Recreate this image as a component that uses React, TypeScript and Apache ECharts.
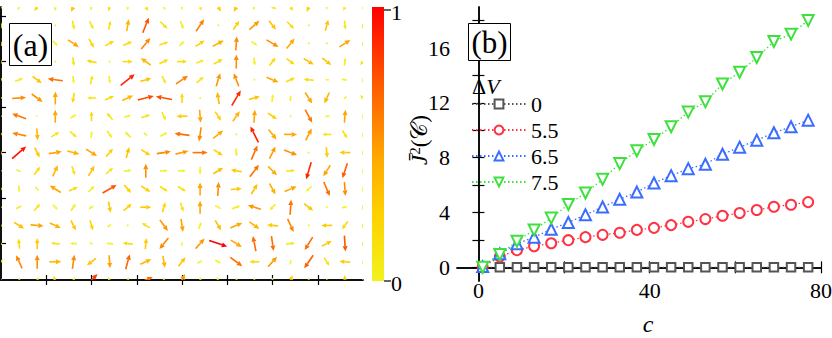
import React, { useEffect, useRef } from 'react';
import * as echarts from 'echarts';

// ---------- panel (b) data ----------
const C_VALUES = [1, 5, 9, 13, 17, 21, 25, 29, 33, 37, 41, 45, 49, 53, 57, 61, 65, 69, 73, 77];
const DV_0 = [0, 0, 0, 0, 0, 0, 0, 0, 0, 0, 0, 0, 0, 0, 0, 0, 0, 0, 0, 0];
const DV_55 = [0, 0.78, 1.25, 1.54, 1.76, 1.98, 2.2, 2.37, 2.52, 2.73, 2.88, 3.08, 3.32, 3.52, 3.76, 3.96, 4.18, 4.42, 4.57, 4.76];
const DV_65 = [0.05, 0.98, 1.71, 2.2, 2.78, 3.27, 3.83, 4.4, 4.96, 5.49, 6.15, 6.69, 7.2, 7.52, 8.25, 8.77, 9.28, 9.82, 10.26, 10.74];
const DV_75 = [0, 0.93, 1.9, 2.73, 3.59, 4.59, 5.42, 6.42, 7.57, 8.5, 9.33, 10.26, 11.33, 12.09, 13.38, 14.24, 15.31, 16.48, 17.02, 18.02];
const SERIES_NAMES = ['0', '5.5', '6.5', '7.5'];
const X_TICKS_B = [0, 20, 40, 60, 80];
const X_LABELS_B = [0, 40, 80];
const Y_TICKS_B = [0, 2, 4, 6, 8, 10, 12, 14, 16, 18];
const Y_LABELS_B = [0, 4, 8, 12, 16];

// ---------- panel (a) data: vector field, rows top -> bottom, 21 columns ----------
const U_ROWS = [
  [0, 2, -6, 0, -5, 2, -3, 0, 5, 3, 0, 3, 6, -5, -3, 8, 5, -4, 0, -3, 0],
  [0, 3, 2, 1, 2, 4, 2, 2, 6, 7, 3, 8, 0.5, 6, 10, 7, 7, 0.5, 3, 1, 1],
  [0, 2, 2, 5, 11, 5, 9, 9, 9, 9, 5, 9, 11, 1, 6, 12, 8, 0.5, 0.3, 11, 0],
  [0, 1, 1, 0.5, 1, -10, 0.5, 10, -10, 9, 10, 8, 9, 0, 1, 6, 8, 10, 9, 1, -6],
  [2, 8, 9, -15, 1, 2, 1, 14, 11, 4, 12, 7, 4, -5, 0.5, 12, 9, -10, -4, 6, 0],
  [3, 14, 11, 0, -2, -9, 9, 11, 16, -16, 0, 0.5, -2, 9, 11, 1, 1, 7, -5, -3, -6],
  [3, -14, 2, 0, 6, 0, -6, 7, 9, 4, -11, 1, 6, 7, 1, 9, 0.5, 7, -5, 1, 0],
  [4, -14, 1, 8, 7, 1, 5, -6, 4, 7, -15, -2, 10, 0.5, -8, 8, 13, 6, -9, 5, 0],
  [0, 14, 5, 13, 12, 11, 7, 3, 9, 14, 13, 15, 9, 1, 6, 6, 13, 0.5, 1, -11, 0],
  [2, 5, 6, 5, 3, 6, 7, 8, 0, 8, 8, 0, 10, -11, 9, 9, 9, -5, -7, -5, 0],
  [2, 1, 4, -11, 9, 6, 14, 7, 9, 8, 8, 0, 1, 11, 6, 6, 12, -6, 6, 1, 0],
  [3, 6, 6, 5, 5, 5, 2, 8, 11, 3, 3, 0, 6, 8, -13, -6, 1, 9, 0.5, 6, 0],
  [3, 10, 13, 11, 5, 3, 4, 0.5, -8, 8, 2, 3, 6, 12, 10, -11, 6, 0.5, -11, -6, 0],
  [4, -1, 0, -9, -7, 3, -7, -10, 1, -9, 1, 9, 18, 11, -3, 2, 9, -8, 10, 1, 0],
  [4, -6, 0, 12, 2, -9, 1, 4, 11, 2, 7, 5, 6, 12, -10, 9, 1, -9, 5, -11, 0],
  [0, 2, 3, -4, 3, 12, -3, 2, 14, 0, 6, 2, -3, 2, 0, 0, 4, 0, 0, 0, 0],
];
const V_ROWS = [
  [3, 5, -8, -8, -10, 6, -9, -7, -8, -6, 5, -8, -9, -10, -6, -4, -8, -10, -6, -8, 4],
  [6, 5, 4, 1, -9, -8, 9, 12, 15, -7, -8, 12, 0.5, 9, 9, -9, -7, 0.5, 11, -9, 6],
  [5, 3, 3, -5, -7, -9, 5, 4, 11, 3, 5, 6, 6, 14, -4, -7, 10, 0.5, 0.3, 7, 5],
  [4, 2, 2, 0.5, -9, 2, 0.3, 0, 7, 4, 0, 3, 5, 14, -8, 8, -6, -6, -7, 8, -7],
  [4, 3, -7, 2, -8, 9, -8, 11, 3, -8, 8, 6, 13, 13, 0.5, -5, 4, 1, 0, -1, 5],
  [2, 1, -8, 13, -10, 0, 4, 5, 4, 3, 10, 0.5, 12, 15, 3, 8, 6, -11, -11, -3, 6],
  [0, 5, 0, 13, 4, 10, 7, 2, 3, -8, 0, -13, -9, 10, 13, -6, 0.3, -13, 0, 13, 5],
  [3, 3, -12, 5, -6, 7, -7, 6, -3, 4, 2, -14, 8, 0.5, 16, -10, 0, 12, 0, -8, 5],
  [4, 12, -10, 2, -3, -7, 8, 11, -6, 2, 3, 0, -6, -8, 14, 12, -5, 0.5, -11, 0, 5],
  [1, -2, 8, 11, -9, 10, 6, 1, 14, 0, 0, -8, 6, 2, 12, -9, 1, -17, -11, -15, 5],
  [3, -7, -4, 7, 4, 6, 8, -8, -6, -5, -5, 13, 14, 1, 10, -11, 5, -5, -14, -14, 5],
  [0, 3, 7, -5, 7, 3, -11, 7, 0, 10, -9, 13, -3, 3, 4, -6, 15, -7, 0.5, 1, 5],
  [-2, -6, -1, -5, -10, -10, 3, 0.5, 5, -11, -13, 7, -10, 5, -7, 1, -13, 0.5, 0, -8, 5],
  [-3, 10, 11, 1, 0, -3, 1, 1, 11, -11, 4, 10, -6, -7, 15, -15, 1, -13, 5, -16, 5],
  [5, 13, 14, 0, 14, -7, -13, 15, 5, -12, 9, 3, -3, -9, 0, 10, 5, -13, -8, 1, 4],
  [4, 5, 6, 8, 6, 12, 6, 6, 6, 6, 12, 6, 6, 5, 5, 5, 10, 5, 4, 10, 4],
];
const X_TICKS_A = [2.5, 5, 7.5, 10, 12.5, 15, 17.5];
const Y_TICKS_A = [2, 4.5, 7, 9.5, 12, 14.5];
const COLORBAR_LABELS = ['1', '0'];

const SERIF = 'Liberation Serif';

const STOPS: [number, number[]][] = [
  [0, [242, 242, 30]],
  [0.25, [255, 208, 0]],
  [0.45, [255, 168, 0]],
  [0.7, [255, 96, 0]],
  [1, [255, 0, 0]],
];
function rampColor(t: number) {
  t = Math.max(0, Math.min(1, t));
  for (let k = 1; k < STOPS.length; k++) {
    if (t <= STOPS[k][0]) {
      const [t0, c0] = STOPS[k - 1];
      const [t1, c1] = STOPS[k];
      const f = (t - t0) / (t1 - t0);
      const c = c0.map((v, idx) => Math.round(v + (c1[idx] - v) * f));
      return `rgb(${c[0]},${c[1]},${c[2]})`;
    }
  }
  return 'rgb(255,0,0)';
}

export default function App() {
  const ref = useRef<HTMLDivElement>(null);
  useEffect(() => {
    if (!ref.current) return;
    const chart = echarts.init(ref.current, undefined, { renderer: 'svg' });

    const nRows = U_ROWS.length;
    const fieldData: number[][] = [];
    for (let r = 0; r < nRows; r++) {
      for (let i = 0; i < U_ROWS[r].length; i++) {
        fieldData.push([i, nRows - 1 - r, U_ROWS[r][i], V_ROWS[r][i]]);
      }
    }

    const renderArrow = (params: any, api: any) => {
      const i = api.value(0), j = api.value(1), u = api.value(2), v = api.value(3);
      const c = api.coord([i, j]);
      const s = api.size([1, 1]);
      const sx = s[0] / 18.1, sy = s[1] / 18.18;
      const dx = u * sx, dy = -v * sy;
      const L = Math.hypot(dx, dy);
      const color = rampColor((Math.hypot(u, v) - 8) / 11);
      if (L < 2) {
        return { type: 'circle', shape: { cx: c[0], cy: c[1], r: 0.9 }, style: { fill: color } };
      }
      const ux = dx / L, uy = dy / L;
      const x0 = c[0] - dx / 2, y0 = c[1] - dy / 2;
      const x1 = c[0] + dx / 2, y1 = c[1] + dy / 2;
      const hl = Math.min(5.5, L * 0.45), hw = hl * 0.45;
      const bx = x1 - ux * hl, by = y1 - uy * hl;
      const px = -uy, py = ux;
      return {
        type: 'group',
        children: [
          { type: 'line', shape: { x1: x0, y1: y0, x2: bx, y2: by }, style: { stroke: color, lineWidth: 1.6 } },
          {
            type: 'polygon',
            shape: { points: [[x1, y1], [bx + px * hw, by + py * hw], [bx - px * hw, by - py * hw]] },
            style: { fill: color },
          },
        ],
      };
    };

    const axisLineStyle = { lineStyle: { color: '#000', width: 1.5 } };
    const hiddenLabel = { show: false };

    const colorbarGradient = new echarts.graphic.LinearGradient(0, 1, 0, 0,
      STOPS.map(([t, c]) => ({ offset: t, color: `rgb(${c[0]},${c[1]},${c[2]})` })));

    const lineColors = ['#555555', '#ff3344', '#3a6dff', '#3ee03e'];
    const lineData = [DV_0, DV_55, DV_65, DV_75];
    const symbols = ['emptyRect', 'emptyCircle', 'emptyTriangle', 'emptyTriangle'];
    const symbolSizes = [8.5, 10, 11, 11];
    const symbolRotates = [0, 0, 0, 180];

    const lineSeries = lineData.map((arr, k) => ({
      type: 'line',
      name: SERIES_NAMES[k],
      xAxisIndex: 2,
      yAxisIndex: 2,
      data: C_VALUES.map((x, n) => [x, arr[n]]),
      symbol: symbols[k],
      symbolSize: symbolSizes[k],
      symbolRotate: symbolRotates[k],
      showAllSymbol: true,
      lineStyle: { color: lineColors[k], width: 1.3, type: [1.5, 2.5] },
      itemStyle: { color: lineColors[k], borderWidth: 1.2 },
      z: 3 + k,
    }));

    const tickStyle = { color: '#000', width: 1.2 };

    const option: any = {
      animation: false,
      backgroundColor: '#fff',
      textStyle: { fontFamily: SERIF },
      grid: [
        { left: 1, top: 7, width: 362, height: 273, outerBoundsMode: 'none', containLabel: false },
        { left: 457, top: 7, width: 364, height: 274, outerBoundsMode: 'none', containLabel: false },
      ],
      xAxis: [
        {
          gridIndex: 0, type: 'value', min: 0, max: 20, position: 'bottom',
          axisLine: axisLineStyle, splitLine: { show: false }, axisLabel: hiddenLabel,
          axisTick: { inside: true, length: 5, customValues: X_TICKS_A, lineStyle: tickStyle },
        },
        {
          gridIndex: 0, type: 'value', min: 0, max: 20, position: 'top',
          axisLine: axisLineStyle, splitLine: { show: false }, axisLabel: hiddenLabel,
          axisTick: { inside: true, length: 5, customValues: X_TICKS_A, lineStyle: tickStyle },
        },
        {
          gridIndex: 1, type: 'value', min: -5, max: 80, position: 'bottom',
          axisLine: axisLineStyle, splitLine: { show: false },
          axisTick: { inside: true, length: 6, customValues: X_TICKS_B, lineStyle: tickStyle },
          axisLabel: {
            customValues: X_LABELS_B, fontSize: 22, color: '#000', fontFamily: SERIF,
            margin: 9, verticalAlign: 'middle', lineHeight: 22,
          },
        },
        {
          gridIndex: 1, type: 'value', min: -5, max: 80, position: 'top',
          axisLine: axisLineStyle, splitLine: { show: false }, axisLabel: hiddenLabel,
          axisTick: { inside: true, length: 6, customValues: X_TICKS_B, lineStyle: tickStyle },
        },
      ],
      yAxis: [
        {
          gridIndex: 0, type: 'value', min: 0, max: 15, position: 'left',
          axisLine: axisLineStyle, splitLine: { show: false }, axisLabel: hiddenLabel,
          axisTick: { inside: true, length: 5, customValues: Y_TICKS_A, lineStyle: tickStyle },
        },
        {
          gridIndex: 0, type: 'value', min: 0, max: 15, position: 'right',
          axisLine: axisLineStyle, splitLine: { show: false }, axisLabel: hiddenLabel,
          axisTick: { inside: true, length: 5, customValues: Y_TICKS_A, lineStyle: tickStyle },
        },
        {
          gridIndex: 1, type: 'value', min: -1, max: 19, position: 'left',
          axisLine: axisLineStyle, splitLine: { show: false },
          axisTick: { inside: true, length: 6, customValues: Y_TICKS_B, lineStyle: tickStyle },
          axisLabel: { customValues: Y_LABELS_B, fontSize: 22, color: '#000', fontFamily: SERIF, margin: 7 },
        },
        {
          gridIndex: 1, type: 'value', min: -1, max: 19, position: 'right',
          axisLine: axisLineStyle, splitLine: { show: false }, axisLabel: hiddenLabel,
          axisTick: { inside: true, length: 6, customValues: Y_TICKS_B, lineStyle: tickStyle },
        },
      ],
      legend: {
        data: SERIES_NAMES,
        orient: 'vertical',
        left: 471,
        top: 93,
        itemWidth: 54,
        itemHeight: 11,
        itemGap: 4,
        padding: 0,
        textStyle: { fontSize: 22, color: '#000', fontFamily: SERIF },
        selectedMode: false,
      },
      series: [
        {
          type: 'custom',
          xAxisIndex: 0,
          yAxisIndex: 0,
          data: fieldData,
          renderItem: renderArrow,
          clip: true,
          silent: true,
          z: 2,
        },
        ...lineSeries,
      ],
      graphic: [
        // (a) label box
        { type: 'rect', z: 100, shape: { x: 9.5, y: 23.5, width: 42, height: 42 }, style: { fill: '#fff', stroke: '#000', lineWidth: 1 } },
        { type: 'text', z: 101, x: 30.5, y: 44.5, style: { text: '(a)', fontSize: 32, fontFamily: SERIF, fill: '#000', align: 'center', verticalAlign: 'middle' } },
        // (b) label box
        { type: 'rect', z: 100, shape: { x: 468.5, y: 23.5, width: 42, height: 37 }, style: { fill: '#fff', stroke: '#000', lineWidth: 1 } },
        { type: 'text', z: 101, x: 489.5, y: 42, style: { text: '(b)', fontSize: 31, fontFamily: SERIF, fill: '#000', align: 'center', verticalAlign: 'middle' } },
        // Delta V legend title
        {
          type: 'text', z: 101, x: 472, y: 86,
          style: {
            text: '{a|Δ}{b|V}',
            verticalAlign: 'middle',
            rich: {
              a: { fontSize: 22, fontFamily: SERIF, fill: '#000' },
              b: { fontSize: 22, fontFamily: SERIF, fontStyle: 'italic', fill: '#000' },
            },
          },
        },
        // colorbar
        { type: 'rect', z: 10, shape: { x: 372, y: 7, width: 12, height: 274 }, style: { fill: colorbarGradient } },
        { type: 'line', z: 10, shape: { x1: 384, y1: 10, x2: 391, y2: 10 }, style: { stroke: '#000', lineWidth: 1.2 } },
        { type: 'line', z: 10, shape: { x1: 384, y1: 281, x2: 391, y2: 281 }, style: { stroke: '#000', lineWidth: 1.2 } },
        { type: 'text', z: 10, x: 391, y: 12, style: { text: COLORBAR_LABELS[0], fontSize: 22, fontFamily: SERIF, fill: '#000', verticalAlign: 'middle' } },
        { type: 'text', z: 10, x: 391, y: 283, style: { text: COLORBAR_LABELS[1], fontSize: 22, fontFamily: SERIF, fill: '#000', verticalAlign: 'middle' } },
        // y-axis name of panel (b)
        {
          type: 'text', z: 10, x: 419, y: 140, rotation: Math.PI / 2,
          style: {
            text: '{j|J\u0304}{s|2}{p|(}{c|\uD835\uDC9E}{p|)}',
            align: 'center',
            verticalAlign: 'middle',
            rich: {
              j: { fontSize: 23, fontFamily: SERIF, fontStyle: 'italic', fill: '#000' },
              s: { fontSize: 15, fontFamily: SERIF, fill: '#000', padding: [0, 0, 9, 0] },
              p: { fontSize: 23, fontFamily: SERIF, fill: '#000' },
              c: { fontSize: 23, fontFamily: 'DejaVu Serif', fill: '#000' },
            },
          },
        },
        // x-axis name of panel (b)
        { type: 'text', z: 10, x: 648, y: 324, style: { text: 'c', fontSize: 24, fontStyle: 'italic', fontFamily: SERIF, fill: '#000', align: 'center', verticalAlign: 'middle' } },
      ],
    };

    chart.setOption(option);
    return () => chart.dispose();
  }, []);

  return (
    <div
      ref={ref}
      style={{ position: 'fixed', left: 0, top: 0, width: 832, height: 338, background: '#fff' }}
    />
  );
}
